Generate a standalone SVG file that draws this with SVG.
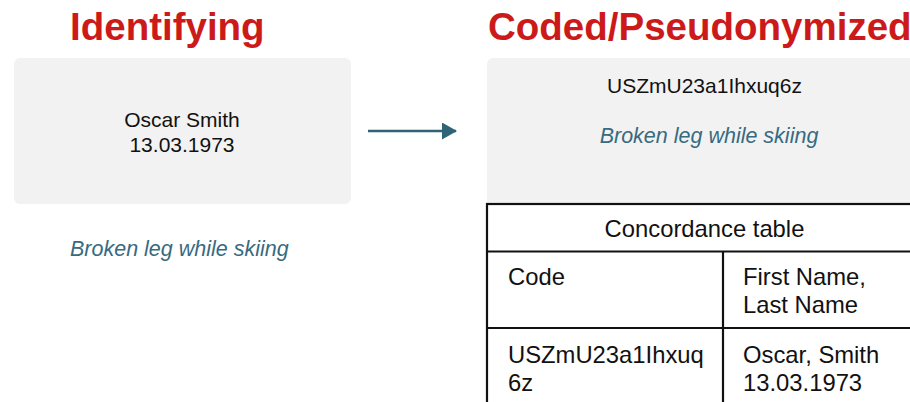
<svg xmlns="http://www.w3.org/2000/svg" width="910" height="402" viewBox="0 0 910 402">
  <style>
    .title { font-family: "Liberation Sans", Arial, sans-serif; font-weight: bold; font-size: 38.5px; fill: #cc1a1a; }
    .body { font-family: "Liberation Sans", Arial, sans-serif; font-size: 21px; fill: #111111; }
    .note { font-family: "Liberation Sans", Arial, sans-serif; font-style: italic; font-size: 21.5px; fill: #386a80; }
    .cell { font-family: "Liberation Sans", Arial, sans-serif; font-size: 23.8px; fill: #111111; }
    .panel { fill: #f2f2f2; }
    .grid { fill: #ffffff; stroke: #111111; stroke-width: 2.2; }
    .rule { stroke: #111111; stroke-width: 2.2; }
  </style>
  <defs>
    <marker id="arrowhead" markerWidth="6" markerHeight="7" refX="5.6" refY="3.4" orient="auto" markerUnits="strokeWidth">
      <path d="M0,0 L6,3.4 L0,6.8 Z" fill="#2e6378"/>
    </marker>
  </defs>

  <rect width="910" height="402" fill="#ffffff"/>

  <g id="identifying">
    <text class="title" x="70" y="40">Identifying</text>
    <rect class="panel" x="14" y="58" width="337" height="146" rx="6"/>
    <text class="body" x="182" y="127" text-anchor="middle">Oscar Smith</text>
    <text class="body" x="182" y="152" text-anchor="middle">13.03.1973</text>
    <text class="note" x="70" y="256">Broken leg while skiing</text>
  </g>

  <g id="connectors">
    <line x1="368" y1="131" x2="456" y2="131" stroke="#2e6378" stroke-width="2.5" marker-end="url(#arrowhead)"/>
  </g>

  <g id="pseudonymized">
    <text class="title" x="488" y="40">Coded/Pseudonymized</text>
    <rect class="panel" x="487" y="58" width="440" height="160" rx="6"/>
    <text class="body" x="704.5" y="93" text-anchor="middle">USZmU23a1Ihxuq6z</text>
    <text class="note" x="709" y="143" text-anchor="middle">Broken leg while skiing</text>
  </g>

  <g id="concordance-table">
    <rect class="grid" x="487" y="204" width="440" height="220"/>
    <line class="rule" x1="487" y1="251.5" x2="927" y2="251.5"/>
    <line class="rule" x1="487" y1="328" x2="927" y2="328"/>
    <line class="rule" x1="723" y1="251.5" x2="723" y2="410"/>
    <text class="cell" x="704.5" y="237" text-anchor="middle">Concordance table</text>
    <text class="cell" x="508" y="285">Code</text>
    <text class="cell" x="743" y="285">First Name,</text>
    <text class="cell" x="743" y="313">Last Name</text>
    <text class="cell" x="508" y="363">USZmU23a1Ihxuq</text>
    <text class="cell" x="508" y="391">6z</text>
    <text class="cell" x="743" y="363">Oscar, Smith</text>
    <text class="cell" x="743" y="391">13.03.1973</text>
  </g>
</svg>
